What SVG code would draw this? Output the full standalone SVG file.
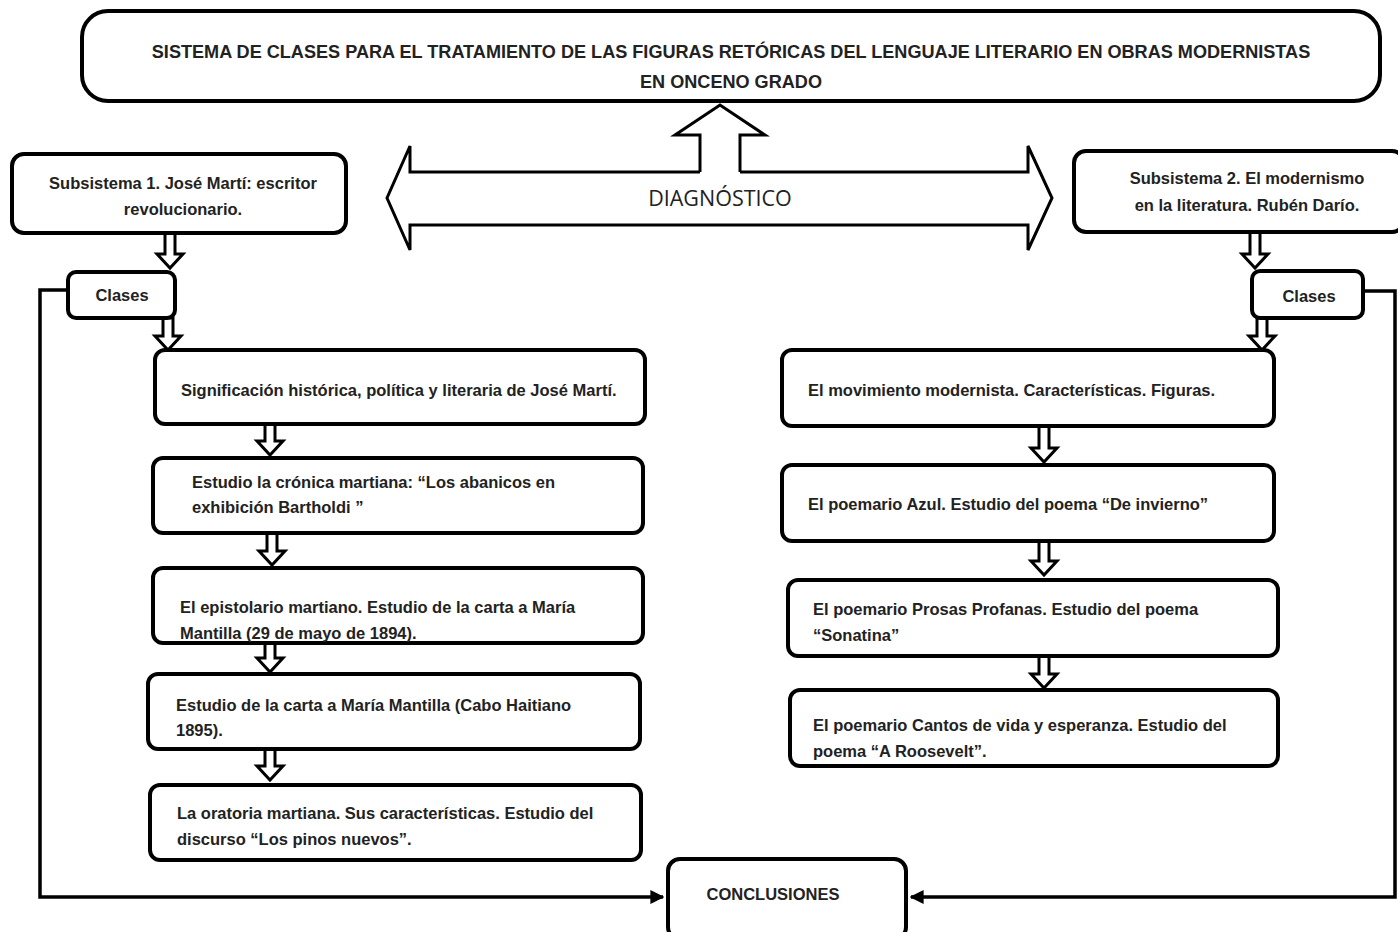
<svg xmlns="http://www.w3.org/2000/svg" width="1398" height="932" viewBox="0 0 1398 932">
<defs>
<style>
.box{fill:#fff;stroke:#000;stroke-width:4}
.blk{fill:#fff;stroke:#000;stroke-width:3;stroke-linejoin:miter}
.ln{fill:none;stroke:#000;stroke-width:3.5}
.t{font-family:"Liberation Sans Narrow","Liberation Sans",Arial,sans-serif;font-weight:bold;font-size:16.5px;fill:#222}
.tt{font-size:18.1px}
.c{text-anchor:middle}
.d{font-family:"Open Sans","Liberation Sans",sans-serif;font-size:21.5px;fill:#222;text-anchor:middle}
</style>
<marker id="ah" viewBox="0 0 10 10" refX="9" refY="5" markerWidth="4" markerHeight="4" orient="auto"><path d="M0,0 L10,5 L0,10 Z" fill="#000"/></marker>
</defs>
<rect width="1398" height="932" fill="#fff"/>

<g id="connectors">
<path class="ln" d="M68,290 H40 V897 H663" marker-end="url(#ah)"/>
<path class="ln" d="M1363,291 H1395 V897 H911" marker-end="url(#ah)"/>
<path class="blk" d="M700,172 V135 H675 L720,105 L765,135 H740 V172"/>
<path class="blk" d="M700,172 H410 V146 L387,198 L410,250 V225 H1028 V250 L1052,198 L1028,146 V172 H740"/>
<path class="blk" d="M165,233 V254 H157 L170,268 L183,254 H175 V233 Z"/>
<path class="blk" d="M163,318 V336 H155 L168,350 L181,336 H173 V318 Z"/>
<path class="blk" d="M265,424 V441 H257 L270,455 L283,441 H275 V424 Z"/>
<path class="blk" d="M267,533 V551 H259 L272,565 L285,551 H277 V533 Z"/>
<path class="blk" d="M265,643 V658 H257 L270,672 L283,658 H275 V643 Z"/>
<path class="blk" d="M265,749 V766 H257 L270,780 L283,766 H275 V749 Z"/>
<path class="blk" d="M1250,232 V254 H1242 L1255,268 L1268,254 H1260 V232 Z"/>
<path class="blk" d="M1257,318 V336 H1249 L1262,350 L1275,336 H1267 V318 Z"/>
<path class="blk" d="M1039,426 V448 H1031 L1044,462 L1057,448 H1049 V426 Z"/>
<path class="blk" d="M1039,541 V561 H1031 L1044,575 L1057,561 H1049 V541 Z"/>
<path class="blk" d="M1039,656 V674 H1031 L1044,688 L1057,674 H1049 V656 Z"/>
<text class="d" x="720" y="206">DIAGNÓSTICO</text>
</g>

<g id="title">
<rect class="box" x="82" y="11" width="1298" height="90" rx="26"/>
<text class="t tt c" x="731" y="58">SISTEMA DE CLASES PARA EL TRATAMIENTO DE LAS FIGURAS RETÓRICAS DEL LENGUAJE LITERARIO EN OBRAS MODERNISTAS</text>
<text class="t tt c" x="731" y="88">EN ONCENO GRADO</text>
</g>

<g id="sub1">
<rect class="box" x="12" y="154" width="334" height="79" rx="12"/>
<text class="t c" x="183" y="189">Subsistema 1. José Martí: escritor</text>
<text class="t c" x="183" y="215">revolucionario.</text>
</g>

<g id="sub2">
<rect class="box" x="1074" y="151" width="330" height="81" rx="12"/>
<text class="t c" x="1247" y="184">Subsistema 2. El modernismo</text>
<text class="t c" x="1247" y="211">en la literatura. Rubén Darío.</text>
</g>

<g id="clases1">
<rect class="box" x="68" y="272" width="107" height="46" rx="8"/>
<text class="t c" x="122" y="301">Clases</text>
</g>

<g id="clases2">
<rect class="box" x="1252" y="271" width="111" height="47" rx="8"/>
<text class="t c" x="1309" y="302">Clases</text>
</g>

<g id="l1">
<rect class="box" x="155" y="350" width="490" height="74" rx="10"/>
<text class="t" x="181" y="396">Significación histórica, política y literaria de José Martí.</text>
</g>
<g id="l2">
<rect class="box" x="153" y="458" width="490" height="75" rx="10"/>
<text class="t" x="192" y="488">Estudio la crónica martiana: “Los abanicos en</text>
<text class="t" x="192" y="513">exhibición Bartholdi ”</text>
</g>
<g id="l3">
<rect class="box" x="153" y="568" width="490" height="75" rx="10"/>
<text class="t" x="180" y="613">El epistolario martiano. Estudio de la carta a María</text>
<text class="t" x="180" y="639">Mantilla (29 de mayo de 1894).</text>
</g>
<g id="l4">
<rect class="box" x="148" y="674" width="492" height="75" rx="10"/>
<text class="t" x="176" y="711">Estudio de la carta a María Mantilla (Cabo Haitiano</text>
<text class="t" x="176" y="736">1895).</text>
</g>
<g id="l5">
<rect class="box" x="150" y="785" width="491" height="75" rx="10"/>
<text class="t" x="177" y="819">La oratoria martiana. Sus características. Estudio del</text>
<text class="t" x="177" y="845">discurso “Los pinos nuevos”.</text>
</g>

<g id="r1">
<rect class="box" x="782" y="350" width="492" height="76" rx="10"/>
<text class="t" x="808" y="396">El movimiento modernista. Características. Figuras.</text>
</g>
<g id="r2">
<rect class="box" x="782" y="465" width="492" height="76" rx="10"/>
<text class="t" x="808" y="510">El poemario Azul. Estudio del poema “De invierno”</text>
</g>
<g id="r3">
<rect class="box" x="788" y="580" width="490" height="76" rx="10"/>
<text class="t" x="813" y="615">El poemario Prosas Profanas. Estudio del poema</text>
<text class="t" x="813" y="641">“Sonatina”</text>
</g>
<g id="r4">
<rect class="box" x="790" y="690" width="488" height="76" rx="10"/>
<text class="t" x="813" y="731">El poemario Cantos de vida y esperanza. Estudio del</text>
<text class="t" x="813" y="757">poema “A Roosevelt”.</text>
</g>

<g id="conclusiones">
<rect class="box" x="668" y="859" width="238" height="80" rx="12"/>
<text class="t c" x="773" y="900">CONCLUSIONES</text>
</g>
</svg>
